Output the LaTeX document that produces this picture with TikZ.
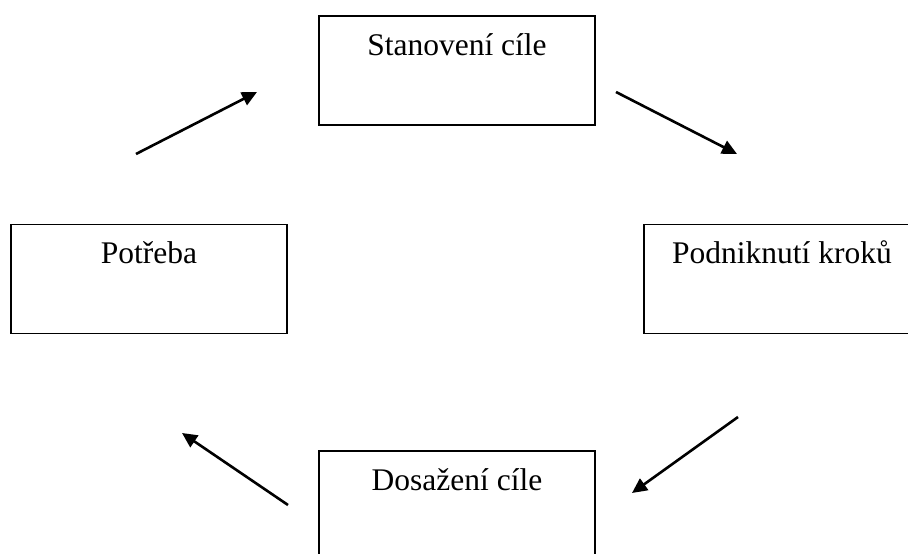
\documentclass[tikz,border=0pt]{standalone}
\usepackage{fontspec}
\setmainfont{Liberation Serif}
\usepackage{tikz}
\usetikzlibrary{arrows.meta,positioning}

\begin{document}
\begin{tikzpicture}[x=1pt,y=1pt,
    >={Triangle[length=15pt,width=14pt]},
    stagebox/.style={draw,line width=1.8pt,minimum width=276pt,minimum height=109pt,inner sep=0pt},
    stagetext/.style={anchor=base,inner sep=0pt,font=\fontsize{31.5}{38}\selectfont},
    cyclearrow/.style={->,line width=2.6pt}]
  \useasboundingbox (0,0) rectangle (908,554);
  \clip (0,0) rectangle (908,554);
  % the four stages
  \node[stagebox] (goal) at (457,483.5) {};
  \node[stagebox] (need) at (149,275) {};
  \node[stagebox] (action) at (782,275) {};
  \node[stagebox] (reached) at (457,48.5) {};
  \node[stagetext] (goaltxt) at ([yshift=-40pt]goal.north) {Stanovení cíle};
  \node[stagetext] (needtxt) at ([yshift=-40pt]need.north) {Potřeba};
  \node[stagetext] (actiontxt) at ([yshift=-40pt]action.north) {Podniknutí kroků};
  \node[stagetext] (reachedtxt) at ([yshift=-40pt]reached.north) {Dosažení cíle};
  % arrows between the stages
  \coordinate (a1s) at (136,400); \coordinate (a1e) at (257,462);
  \coordinate (a2s) at (616,462); \coordinate (a2e) at (737,400);
  \coordinate (a3s) at (738,137); \coordinate (a3e) at (632,61);
  \coordinate (a4s) at (288,49);  \coordinate (a4e) at (182,121);
  \draw[cyclearrow] (a1s) -- (a1e);
  \draw[cyclearrow] (a2s) -- (a2e);
  \draw[cyclearrow] (a3s) -- (a3e);
  \draw[cyclearrow] (a4s) -- (a4e);
\end{tikzpicture}
\end{document}
